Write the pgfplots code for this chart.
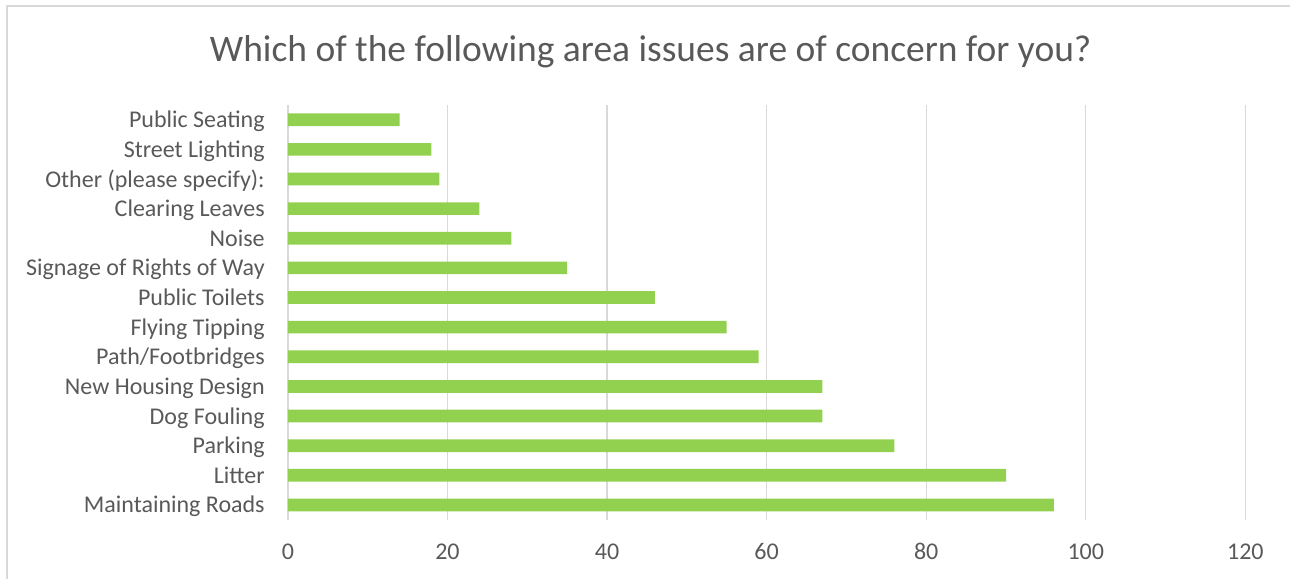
\documentclass[border=0pt]{standalone}
\usepackage{fontspec}
\setmainfont{Carlito}
\usepackage{pgfplots}
\pgfplotsset{compat=1.18}
\definecolor{bargreen}{HTML}{92D050}
\definecolor{gridgray}{HTML}{D9D9D9}
\definecolor{textgray}{HTML}{595959}
\begin{document}
\begin{tikzpicture}[x=1pt,y=1pt]
% page extent and chart frame (top and left edges)
\path (0,0) rectangle (1291,579);
\draw[gridgray, line width=1.3pt] (7,0) -- (7,573) -- (1291,573);
\node[anchor=base, text=textgray, inner sep=0pt, font=\fontsize{37.5}{45}\selectfont]
  at (651,517) {Which of the following area issues are of concern for you?};
\begin{axis}[
  at={(288pt,59pt)}, anchor=south west,
  scale only axis, width=958pt, height=415pt,
  xbar, bar width=12.7pt, bar shift=0pt,
  xmin=0, xmax=120, ymin=-0.5, ymax=13.5,
  xtick={0,20,...,120},
  ytick={0,...,13},
  yticklabels={Maintaining Roads,Litter,Parking,Dog Fouling,New Housing Design,
    Path/Footbridges,Flying Tipping,Public Toilets,Signage of Rights of Way,
    Noise,Clearing Leaves,Other (please specify):,Street Lighting,Public Seating},
  xmajorgrids, grid style={gridgray, line width=1.4pt},
  axis line style={draw=none},
  major tick length=0pt,
  tick label style={text=textgray, font=\fontsize{24}{29}\selectfont},
  /pgf/number format/assume math mode=true,
  yticklabel style={anchor=base east, inner sep=0pt, xshift=-23pt, yshift=-8pt},
  xticklabel style={anchor=base, inner sep=0pt, yshift=-40pt},
]
\addplot[fill=bargreen, draw=none] coordinates {
  (96,0) (90,1) (76,2) (67,3) (67,4) (59,5) (55,6)
  (46,7) (35,8) (28,9) (24,10) (19,11) (18,12) (14,13)
};
\end{axis}
\end{tikzpicture}
\end{document}
